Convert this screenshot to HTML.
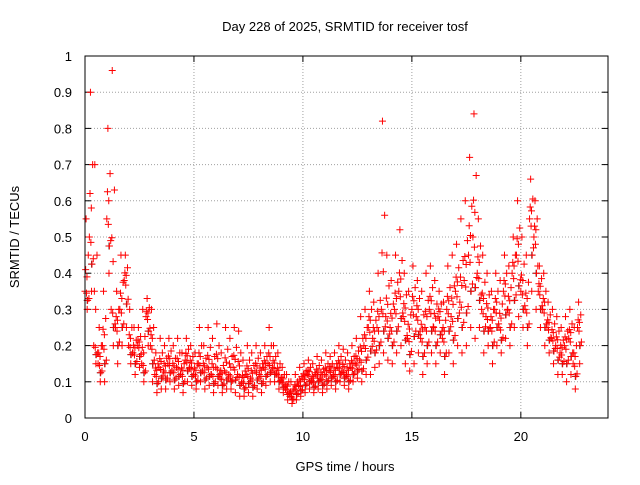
<!DOCTYPE html>
<html><head><meta charset="utf-8"><style>
body{margin:0;background:#fff;}
svg text{font-family:"Liberation Sans",sans-serif;font-size:13px;fill:#000;}
</style></head><body>
<svg id="chart" width="640" height="480" xmlns="http://www.w3.org/2000/svg">
<rect x="0" y="0" width="640" height="480" fill="#fff"/>
<text x="345" y="31" text-anchor="middle">Day 228 of 2025, SRMTID for receiver tosf</text>
<text x="345" y="471" text-anchor="middle">GPS time / hours</text>
<text transform="translate(19,237) rotate(-90)" text-anchor="middle">SRMTID / TECUs</text>
<g id="grid"></g><g id="ticks"></g><g id="marks"></g>
<rect x="85" y="56" width="523" height="362" fill="none" stroke="#000" stroke-width="1"/>
</svg>
<script>
const xTicks=[0,5,10,15,20];
const yTicks=[0,0.1,0.2,0.3,0.4,0.5,0.6,0.7,0.8,0.9,1];
const yTickLabels=["0","0.1","0.2","0.3","0.4","0.5","0.6","0.7","0.8","0.9","1"];
const hours=[0.0,0.2,0.4,0.6,0.8,1.0,1.2,1.4,1.6,1.8,2.0,2.2,2.4,2.6,2.8,3.0,3.2,3.4,3.6,3.8,4.0,4.2,4.4,4.6,4.8,5.0,5.2,5.4,5.6,5.8,6.0,6.2,6.4,6.6,6.8,7.0,7.2,7.4,7.6,7.8,8.0,8.2,8.4,8.6,8.8,9.0,9.2,9.4,9.6,9.8,10.0,10.2,10.4,10.6,10.8,11.0,11.2,11.4,11.6,11.8,12.0,12.2,12.4,12.6,12.8,13.0,13.2,13.4,13.6,13.8,14.0,14.2,14.4,14.6,14.8,15.0,15.2,15.4,15.6,15.8,16.0,16.2,16.4,16.6,16.8,17.0,17.2,17.4,17.6,17.8,18.0,18.2,18.4,18.6,18.8,19.0,19.2,19.4,19.6,19.8,20.0,20.2,20.4,20.6,20.8,21.0,21.2,21.4,21.6,21.8,22.0,22.2,22.4,22.6];
const srmtidMid=[.35,.50,.20,.15,.20,.55,.30,.25,.30,.38,.20,.18,.20,.15,.28,.20,.12,.14,.13,.15,.13,.14,.12,.16,.14,.12,.15,.13,.14,.12,.14,.11,.13,.12,.14,.12,.10,.12,.11,.13,.12,.14,.15,.14,.12,.10,.08,.06,.08,.09,.11,.12,.10,.12,.11,.12,.13,.12,.14,.13,.12,.14,.15,.16,.20,.25,.22,.25,.30,.28,.25,.30,.35,.28,.22,.30,.28,.22,.25,.30,.25,.28,.22,.30,.28,.35,.32,.38,.45,.50,.40,.30,.28,.25,.30,.25,.35,.30,.40,.45,.35,.30,.55,.50,.35,.30,.25,.22,.20,.18,.20,.22,.15,.25];
const srmtidHigh=[.55,.90,.70,.25,.35,.80,.96,.35,.45,.45,.30,.25,.25,.30,.33,.30,.18,.22,.20,.22,.20,.22,.18,.22,.20,.18,.25,.20,.25,.22,.26,.18,.25,.22,.25,.24,.16,.20,.18,.20,.18,.20,.25,.20,.18,.14,.12,.10,.12,.14,.15,.16,.15,.17,.16,.18,.17,.18,.20,.19,.18,.20,.22,.28,.30,.35,.32,.40,.82,.45,.38,.45,.52,.40,.35,.42,.38,.35,.40,.42,.38,.35,.32,.42,.45,.48,.55,.60,.72,.84,.55,.45,.40,.35,.40,.38,.45,.42,.50,.60,.50,.45,.66,.60,.42,.40,.32,.30,.28,.25,.28,.30,.25,.32];
const srmtidLow=[.30,.35,.15,.10,.10,.40,.20,.15,.20,.25,.15,.12,.14,.10,.20,.10,.07,.08,.08,.10,.08,.09,.07,.10,.09,.08,.10,.08,.09,.07,.09,.07,.08,.08,.07,.06,.06,.07,.06,.08,.07,.09,.10,.10,.08,.07,.05,.04,.05,.06,.07,.08,.07,.08,.07,.08,.09,.08,.10,.09,.08,.10,.11,.10,.12,.12,.14,.15,.18,.16,.15,.18,.20,.15,.13,.15,.18,.12,.15,.18,.15,.18,.12,.18,.15,.20,.18,.20,.25,.22,.25,.18,.20,.15,.20,.18,.22,.20,.25,.28,.25,.20,.35,.30,.25,.20,.18,.15,.12,.12,.10,.12,.08,.15];
const X0=85,X1=608,XMAX=24,Y0=418,Y1=56;
const xs=v=>X0+(X1-X0)*v/XMAX, ys=v=>Y0-(Y0-Y1)*v;
const NS="http://www.w3.org/2000/svg";
function mk(tag,attrs,parent){const e=document.createElementNS(NS,tag);for(const k in attrs)e.setAttribute(k,attrs[k]);parent.appendChild(e);return e;}
const grid=document.getElementById('grid'),ticks=document.getElementById('ticks'),marks=document.getElementById('marks');
xTicks.forEach(t=>{const x=xs(t);
 if(t>0){const g=mk('line',{x1:x,x2:x,y1:Y0,y2:Y1,stroke:'#a0a0a0','stroke-dasharray':'1,2'},grid);
 
 }
 mk('line',{x1:x,x2:x,y1:Y0,y2:Y0-6,stroke:'#000'},ticks);mk('line',{x1:x,x2:x,y1:Y1,y2:Y1+6,stroke:'#000'},ticks);
 const l=mk('text',{x:x,y:Y0+23,'text-anchor':'middle'},ticks);l.textContent=t;
 
 });
yTicks.forEach((t,i)=>{const y=ys(t);
 if(i>0&&i<yTicks.length-1){const g=mk('line',{x1:X0,x2:X1,y1:y,y2:y,stroke:'#a0a0a0','stroke-dasharray':'1,2'},grid);
 
 }
 mk('line',{x1:X0,x2:X0+6,y1:y,y2:y,stroke:'#000'},ticks);mk('line',{x1:X1,x2:X1-6,y1:y,y2:y,stroke:'#000'},ticks);
 const l=mk('text',{x:X0-13,y:y+5,'text-anchor':'end'},ticks);l.textContent=yTickLabels[i];
 
 });
function plus(t,v,color){const x=xs(t),y=ys(v);
 const p=mk('path',{d:`M${x-3.5},${y}h7M${x},${y-3.5}v7`,stroke:color,'stroke-width':1,fill:'none'},marks);
 
 }
hours.forEach((h,i)=>{
 plus(h+0.1,(srmtidMid[i]+srmtidLow[i])/2,'#404040');
});
hours.forEach((h,i)=>{
 const m=srmtidMid[i],hi=srmtidHigh[i],lo=srmtidLow[i];
 plus(h,m,'#ff0000');
 plus(h+0.05,hi,'#ff0000');
 plus(h+0.1,lo,'#ff0000');
 plus(h+0.15,(m+hi)/2,'#ff0000');
 plus(h+0.12,(m+lo)/2,'#ff0000');
 plus(h+0.07,m*0.9+lo*0.1,'#ff0000');
 plus(h+0.03,m*0.7+hi*0.3,'#ff0000');
 plus(h+0.18,m*0.6+lo*0.4,'#ff0000');
 plus(h+0.09,m*0.8+hi*0.2,'#ff0000');
});
</script>
</body></html>
